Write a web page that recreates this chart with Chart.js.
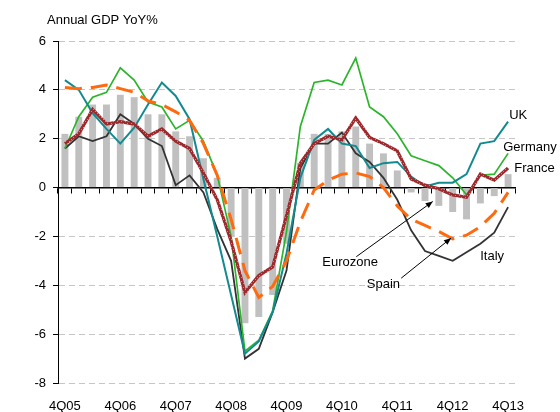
<!DOCTYPE html>
<html>
<head>
<meta charset="utf-8">
<title>Annual GDP YoY%</title>
<script src="https://cdn.jsdelivr.net/npm/chart.js@4.4.1/dist/chart.umd.min.js"></script>
<style>
  html, body { margin: 0; padding: 0; background: #fff; }
  #wrap { width: 560px; height: 412px; }
</style>
</head>
<body>
<div id="wrap"><canvas id="gdpChart" width="560" height="412"></canvas></div>
<script>
// Quarterly categories, 4Q05 .. 4Q13
const quarters = ['4Q05', '1Q06', '2Q06', '3Q06', '4Q06', '1Q07', '2Q07', '3Q07', '4Q07',
  '1Q08', '2Q08', '3Q08', '4Q08', '1Q09', '2Q09', '3Q09', '4Q09', '1Q10', '2Q10', '3Q10', '4Q10',
  '1Q11', '2Q11', '3Q11', '4Q11', '1Q12', '2Q12', '3Q12', '4Q12', '1Q13', '2Q13', '3Q13', '4Q13'];
const shownLabels = ['4Q05', '4Q06', '4Q07', '4Q08', '4Q09', '4Q10', '4Q11', '4Q12', '4Q13'];

// Annual GDP growth, % YoY
const eurozone = [2.2, 2.9, 3.4, 3.4, 3.8, 3.7, 3.0, 3.0, 2.3, 2.1, 1.2, 0.4, -2.0, -5.55, -5.3, -4.4, -2.3,
  1.0, 2.2, 2.2, 2.3, 2.5, 1.8, 1.4, 0.7, -0.2, -0.55, -0.75, -1.0, -1.3, -0.65, -0.35, 0.55];
const germany = [1.6, 2.9, 3.7, 3.9, 4.9, 4.4, 3.5, 3.3, 2.4, 2.75, 1.9, 0.5, -2.0, -6.7, -6.25, -5.05, -1.8,
  2.5, 4.3, 4.4, 4.2, 5.3, 3.3, 2.9, 2.2, 1.3, 1.1, 0.9, 0.4, -0.3, 0.5, 0.55, 1.4];
const uk = [4.4, 4.0, 3.05, 2.4, 1.8, 2.45, 3.4, 4.3, 3.75, 2.8, 0.35, -2.0, -4.4, -6.8, -6.3, -5.1, -2.7,
  0.4, 1.95, 2.4, 1.8, 1.7, 0.8, 1.0, 1.05, 0.45, 0.05, 0.2, 0.2, 0.55, 1.8, 1.9, 2.7];
const italy = [1.6, 2.1, 1.9, 2.1, 3.0, 2.6, 2.0, 1.7, 0.1, 0.5, -0.2, -1.7, -3.0, -7.0, -6.6, -5.1, -3.4,
  0.8, 1.8, 1.8, 2.25, 1.4, 1.05, 0.4, -0.5, -1.75, -2.6, -2.8, -3.0, -2.65, -2.3, -1.85, -0.8];
const france = [1.8, 2.2, 3.2, 2.6, 2.7, 2.6, 2.1, 2.4, 1.9, 1.6, 0.6, -0.5, -2.2, -4.3, -3.6, -3.25, -1.15,
  1.0, 1.8, 2.1, 1.95, 2.85, 2.05, 1.8, 1.5, 0.35, 0.1, -0.05, -0.3, -0.4, 0.55, 0.3, 0.8];
const spain = [4.1, 4.05, 4.1, 4.2, 4.05, 3.9, 3.55, 3.4, 3.1, 2.75, 1.8, 0.5, -1.3, -3.4, -4.5, -4.05, -3.0,
  -1.4, -0.1, 0.3, 0.55, 0.6, 0.45, 0.0, -0.75, -1.3, -1.55, -1.8, -2.1, -1.95, -1.6, -1.05, -0.2];

const yMin = -8;
const yMax = 6;
const yStep = 2;

// Series labels placed in data space (category index, value)
const seriesLabels = [
  { text: 'UK', x: 32.08, y: 2.94 },
  { text: 'Germany', x: 31.65, y: 1.63 },
  { text: 'France', x: 32.45, y: 0.77 },
  { text: 'Italy', x: 29.99, y: -2.8 },
  { text: 'Eurozone', x: 18.59, y: -3.05 },
  { text: 'Spain', x: 21.8, y: -3.95 }
];
const arrows = [
  { from: [21.04, -2.83], to: [26.56, -0.57] },
  { from: [24.28, -3.71], to: [27.88, -2.07] }
];

const FONT = '"Liberation Sans", Arial, sans-serif';
Chart.defaults.font.family = FONT;
Chart.defaults.font.size = 13;
Chart.defaults.color = '#000';

// France line: dark red with light speckles
function speckledRed() {
  const c = document.createElement('canvas');
  c.width = 4;
  c.height = 4;
  const g = c.getContext('2d');
  g.fillStyle = '#9e2a2e';
  g.fillRect(0, 0, 4, 4);
  g.fillStyle = '#cc8585';
  g.fillRect(1, 1, 1, 1);
  g.fillRect(3, 3, 1, 1);
  return g.createPattern(c, 'repeat');
}

// Title, series labels and arrows
const annotate = {
  id: 'annotate',
  afterDraw(chart) {
    const ctx = chart.ctx;
    const xs = chart.scales.x;
    const ys = chart.scales.y;
    ctx.save();
    ctx.fillStyle = '#000';
    ctx.font = '13px ' + FONT;
    ctx.textAlign = 'left';
    ctx.textBaseline = 'middle';
    ctx.fillText('Annual GDP YoY%', 47, 20);

    seriesLabels.forEach(l => {
      ctx.fillText(l.text, xs.getPixelForValue(l.x), ys.getPixelForValue(l.y));
    });

    ctx.strokeStyle = '#000';
    ctx.lineWidth = 1;
    arrows.forEach(a => {
      const x1 = xs.getPixelForValue(a.from[0]);
      const y1 = ys.getPixelForValue(a.from[1]);
      const x2 = xs.getPixelForValue(a.to[0]);
      const y2 = ys.getPixelForValue(a.to[1]);
      ctx.beginPath();
      ctx.moveTo(x1, y1);
      ctx.lineTo(x2, y2);
      ctx.stroke();
      const ang = Math.atan2(y2 - y1, x2 - x1);
      ctx.beginPath();
      ctx.moveTo(x2, y2);
      ctx.lineTo(x2 - 7 * Math.cos(ang) + 3 * Math.sin(ang), y2 - 7 * Math.sin(ang) - 3 * Math.cos(ang));
      ctx.lineTo(x2 - 7 * Math.cos(ang) - 3 * Math.sin(ang), y2 - 7 * Math.sin(ang) + 3 * Math.cos(ang));
      ctx.closePath();
      ctx.fill();
    });
    ctx.restore();
  }
};

function lineSet(label, data, color, width, order, extra) {
  return Object.assign({
    type: 'line',
    label: label,
    data: data,
    borderColor: color,
    backgroundColor: color,
    borderWidth: width,
    pointRadius: 0,
    tension: 0,
    fill: false,
    order: order
  }, extra || {});
}

new Chart(document.getElementById('gdpChart'), {
  type: 'bar',
  data: {
    labels: quarters,
    datasets: [
      {
        label: 'Eurozone',
        data: eurozone,
        backgroundColor: '#c0c0c0',
        barPercentage: 1,
        categoryPercentage: 0.5,
        order: 10
      },
      lineSet('Italy', italy, '#333333', 1.8, 6),
      lineSet('Germany', germany, '#2cb52c', 1.7, 5),
      lineSet('UK', uk, '#138a90', 2, 4),
      lineSet('France', france, speckledRed(), 3.2, 3),
      lineSet('Spain', spain, '#ff6a0e', 3, 2, { borderDash: [17, 9], borderCapStyle: 'butt' })
    ]
  },
  options: {
    responsive: false,
    animation: false,
    layout: { padding: { left: 0, right: 45, top: 41, bottom: 0 } },
    plugins: {
      legend: { display: false },
      tooltip: { enabled: false }
    },
    scales: {
      x: {
        type: 'category',
        offset: true,
        grid: { display: false, drawTicks: false },
        border: { display: false },
        ticks: {
          autoSkip: false,
          maxRotation: 0,
          padding: 16,
          color: '#000',
          callback: function (value, index) {
            const q = quarters[index];
            return shownLabels.includes(q) ? q : '';
          }
        },
        afterFit: function (scale) { scale.height = 29; }
      },
      xZero: {
        axis: 'x',
        type: 'category',
        labels: quarters,
        position: { y: 0 },
        offset: true,
        grid: { offset: true, drawOnChartArea: false, drawTicks: true, tickLength: 5, tickColor: '#000', tickWidth: 1 },
        border: { display: true, color: '#000', width: 1.5 },
        ticks: { display: false, autoSkip: false }
      },
      y: {
        min: yMin,
        max: yMax,
        ticks: { stepSize: yStep, padding: 7, color: '#000' },
        grid: {
          color: function (c) { return c.tick && c.tick.value === 0 ? 'rgba(0,0,0,0)' : '#c6c6c6'; },
          tickColor: '#000',
          tickLength: 5
        },
        border: { display: true, color: '#000', width: 1, dash: [6, 4] },
        afterFit: function (scale) { scale.width = 58; }
      }
    }
  },
  plugins: [annotate]
});
</script>
</body>
</html>
